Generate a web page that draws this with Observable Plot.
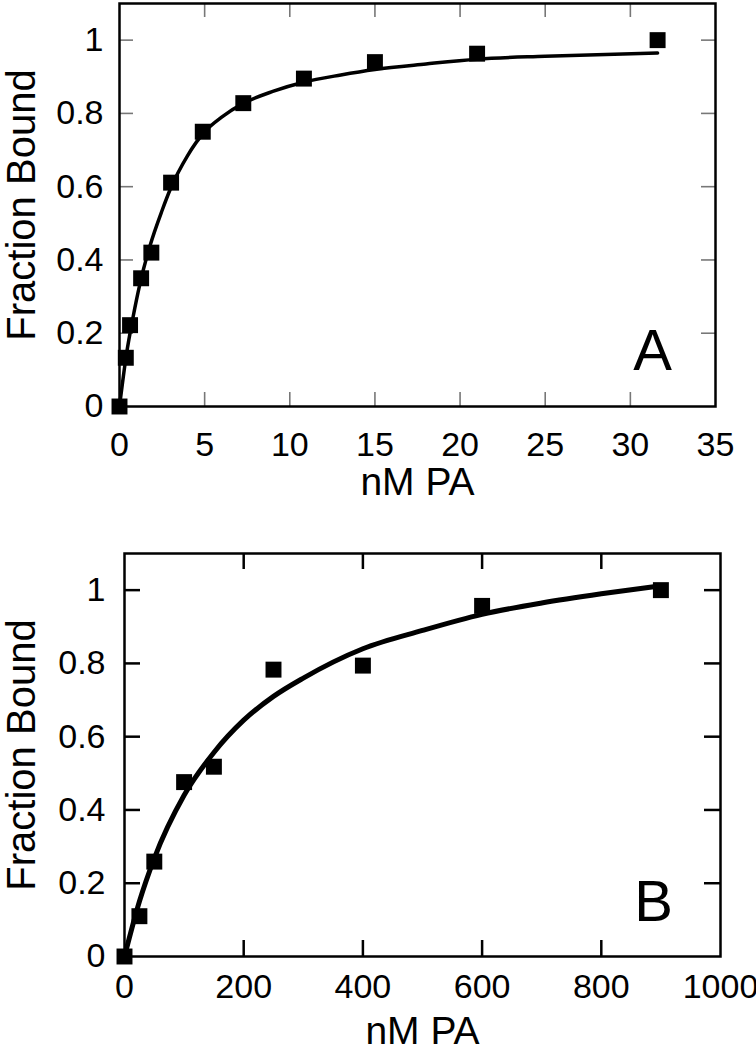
<!DOCTYPE html>
<html>
<head>
<meta charset="utf-8">
<script src="https://cdn.jsdelivr.net/npm/d3@7"></script>
<script src="https://cdn.jsdelivr.net/npm/@observablehq/plot@0.6"></script>
<style>
  html, body { margin: 0; padding: 0; background: #fff; }
  #chart svg { display: block; }
</style>
</head>
<body>
<div id="chart"></div>
<script>
// Panel A data
const aConc = [0, 0.37, 0.62, 1.27, 1.87, 3.03, 4.89, 7.27, 10.83, 15.0, 21.0, 31.6];
const aFrac = [0, 0.133, 0.222, 0.35, 0.42, 0.611, 0.75, 0.828, 0.895, 0.94, 0.963, 1.0];
const aFitConc = [0, 0.4, 0.8, 1.2, 1.8, 2.5, 3, 4, 5, 6, 7.3, 9, 10.8, 13, 15, 18, 21, 25, 31.6];
const aFitFrac = [0, 0.14, 0.245, 0.335, 0.44, 0.535, 0.595, 0.685, 0.75, 0.79, 0.828, 0.86, 0.885, 0.905, 0.92, 0.935, 0.948, 0.956, 0.965];
const aXTicks = [0, 5, 10, 15, 20, 25, 30, 35];
// Panel B data
const bConc = [0, 25, 50, 100, 150, 250, 400, 600, 900];
const bFrac = [0, 0.11, 0.259, 0.476, 0.518, 0.783, 0.794, 0.957, 1.0];
const bFitConc = [0, 25, 50, 100, 150, 200, 250, 300, 400, 500, 600, 700, 800, 900];
const bFitFrac = [0, 0.15, 0.268, 0.44, 0.557, 0.645, 0.71, 0.76, 0.84, 0.89, 0.934, 0.965, 0.99, 1.012];
const bXTicks = [0, 200, 400, 600, 800, 1000];
const yTicks = [0, 0.2, 0.4, 0.6, 0.8, 1];
const xLabel = "nM PA";
const yLabel = "Fraction Bound";
const panelLabels = ["A", "B"];

const mainFont = '"Liberation Sans", Arial, Helvetica, sans-serif';

function panel(cfg) {
  const pts = cfg.conc.map((x, i) => ({x, y: cfg.frac[i]}));
  const fit = cfg.fitConc.map((x, i) => ({x, y: cfg.fitFrac[i]}));
  const innerX = cfg.xTicks.slice(1, -1);
  const innerY = yTicks.slice(1);
  const fw = 756 - cfg.ml - cfg.mr;
  const fh = cfg.height - cfg.mt - cfg.mb;
  const yMax = 1.1, xMax = cfg.xDomain[1];
  // tick length (pixels) expressed along each scale
  const ly = cfg.tickLen / fh * yMax;
  const lx = cfg.tickLen / fw * xMax;
  const ts = {stroke: cfg.tickColor, strokeWidth: cfg.tickWidth};
  return Plot.plot({
    width: 756,
    height: cfg.height,
    marginLeft: cfg.ml, marginRight: cfg.mr, marginTop: cfg.mt, marginBottom: cfg.mb,
    style: {fontFamily: mainFont, color: "black", background: "white", overflow: "visible"},
    x: {domain: cfg.xDomain},
    y: {domain: [0, yMax]},
    marks: [
      // inward ticks on all four sides
      Plot.ruleX(innerX, {x: d => d, y1: 0, y2: ly, ...ts}),
      Plot.ruleX(innerX, {x: d => d, y1: yMax - ly, y2: yMax, ...ts}),
      Plot.ruleY(innerY, {y: d => d, x1: 0, x2: lx, ...ts}),
      Plot.ruleY(innerY, {y: d => d, x1: xMax - lx, x2: xMax, ...ts}),
      // tick labels
      Plot.axisX(cfg.xTicks, {anchor: "bottom", tickSize: 0, tickPadding: cfg.xPad, fontSize: 34, fontFamily: mainFont, tickFormat: d => String(d), label: null}),
      Plot.axisY(yTicks, {anchor: "left", tickSize: 0, tickPadding: cfg.yPad, fontSize: 34, fontFamily: mainFont, tickFormat: d => String(d), label: null}),
      Plot.frame({stroke: "black", strokeWidth: 2.5, fill: "none"}),
      Plot.line(fit, {x: "x", y: "y", stroke: "black", strokeWidth: cfg.lineWidth, curve: "monotone-x"}),
      Plot.dot(pts, {x: "x", y: "y", symbol: "square", r: 9, fill: "black", stroke: null}),
      Plot.text([xLabel], {frameAnchor: "bottom", dy: cfg.xLabelDy, lineAnchor: "middle", fontSize: 39, fontFamily: mainFont, fill: "black"}),
      Plot.text([yLabel], {frameAnchor: "left", dx: -cfg.yLabelDx, rotate: -90, textAnchor: "middle", lineAnchor: "middle", fontSize: 40, fontFamily: mainFont, fill: "black"}),
      Plot.text([cfg.label], {frameAnchor: "bottom-right", dx: cfg.labDx, dy: cfg.labDy, textAnchor: "middle", lineAnchor: "middle", fontSize: 58, fontFamily: mainFont, fill: "black"})
    ]
  });
}

const chart = document.getElementById("chart");
chart.append(panel({
  conc: aConc, frac: aFrac, fitConc: aFitConc, fitFrac: aFitFrac, xTicks: aXTicks,
  xDomain: [0, 35], height: 525, ml: 119, mr: 41, mt: 3, mb: 119,
  tickColor: "#777", tickWidth: 1.6, tickLen: 14, lineWidth: 3.5,
  xPad: 25, yPad: 16, xLabelDy: 76, yLabelDx: 97, label: panelLabels[0], labDx: -63, labDy: -55
}));
chart.append(panel({
  conc: bConc, frac: bFrac, fitConc: bFitConc, fitFrac: bFitFrac, xTicks: bXTicks,
  xDomain: [0, 1000], height: 525, ml: 124, mr: 36, mt: 28, mb: 94,
  tickColor: "black", tickWidth: 2.5, tickLen: 16, lineWidth: 5,
  xPad: 17, yPad: 19, xLabelDy: 75, yLabelDx: 102, label: panelLabels[1], labDx: -67, labDy: -54
}));
</script>
</body>
</html>
